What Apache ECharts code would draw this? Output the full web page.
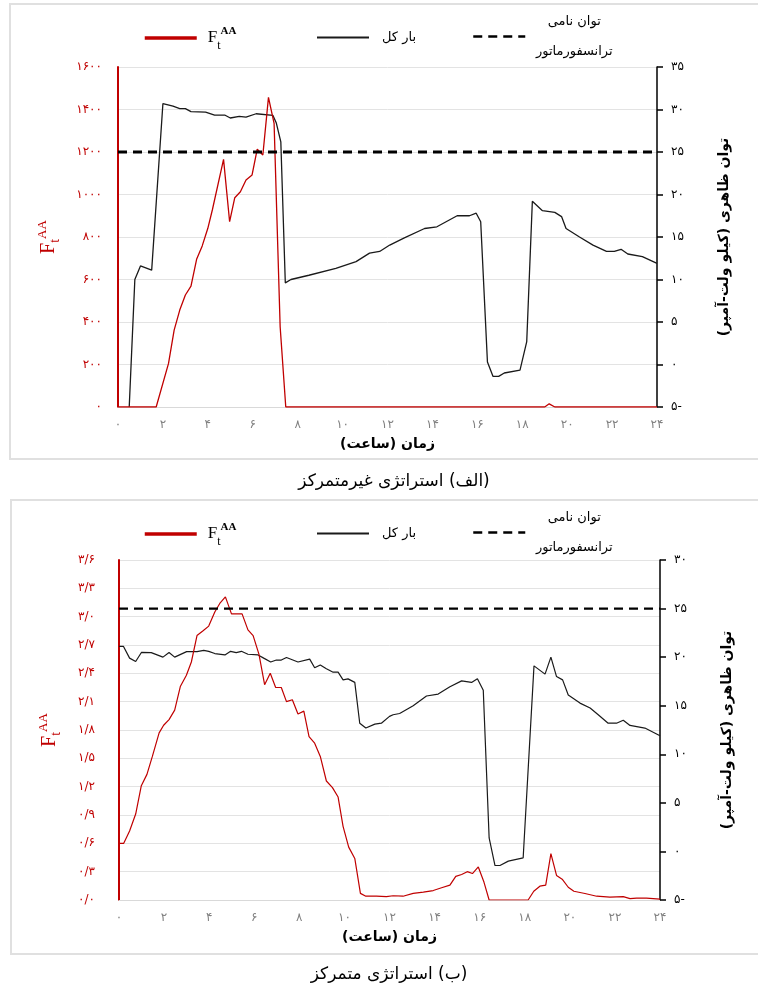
<!DOCTYPE html>
<html>
<head>
<meta charset="utf-8">
<script src="https://cdn.jsdelivr.net/npm/echarts@6/dist/echarts.min.js"></script>
<style>
html,body{margin:0;padding:0;background:#fff;}
#chart{width:758px;height:991px;}
</style>
</head>
<body>
<div id="chart"></div>
<script>
// ---------- DATA ----------
// Panel A (decentralized strategy)
const aLoadHours = [0.5,0.75,1.0,1.5,2.0,2.45,2.75,3.0,3.25,3.9,4.3,4.75,5.0,5.4,5.7,6.15,6.9,7.05,7.25,7.45,7.7,8.5,9.7,10.6,11.2,11.65,12.1,12.75,13.65,14.2,15.1,15.65,15.95,16.15,16.45,16.7,16.95,17.2,17.9,18.2,18.45,18.9,19.45,19.75,19.95,20.55,21.15,21.75,22.1,22.4,22.7,23.35,24];
const aLoad = [-5,10,11.6,11.1,30.7,30.4,30.1,30.1,29.75,29.7,29.35,29.35,29.0,29.2,29.1,29.5,29.3,28.4,26.2,9.6,10.0,10.5,11.3,12.1,13.1,13.3,14.05,14.9,16.0,16.2,17.5,17.5,17.8,16.8,0.3,-1.4,-1.4,-1.0,-0.65,2.7,19.2,18.1,17.9,17.4,16.0,15.0,14.05,13.3,13.3,13.55,13.0,12.7,11.9];
const aFHours = [0,1.7,2.25,2.5,2.75,3.0,3.25,3.5,3.75,4.0,4.2,4.7,4.97,5.2,5.45,5.7,5.97,6.2,6.45,6.7,6.95,7.22,7.47,19.0,19.2,19.45,24];
const aF = [0,0,205,362,456,527,569,695,758,841,927,1165,872,985,1013,1068,1092,1213,1186,1457,1335,378,0,0,15,0,0];

// Panel B (centralized strategy)
const bLoadHours = [0,0.2,0.47,0.74,1.0,1.43,1.95,2.22,2.47,3.0,3.46,3.76,3.98,4.25,4.7,4.95,5.2,5.43,5.72,6.17,6.42,6.73,6.98,7.2,7.43,7.94,8.46,8.68,8.93,9.2,9.5,9.72,9.94,10.16,10.46,10.68,10.95,11.35,11.64,12.0,12.16,12.45,13.05,13.64,14.16,14.68,15.2,15.64,15.9,16.16,16.42,16.68,16.9,17.27,17.93,18.41,18.9,19.16,19.41,19.68,19.93,20.45,20.9,21.26,21.7,22.07,22.37,22.67,23.33,24];
const bLoad = [21.1,21.1,19.9,19.55,20.5,20.47,20.0,20.47,20.0,20.57,20.57,20.7,20.6,20.37,20.23,20.6,20.47,20.6,20.3,20.23,19.9,19.5,19.7,19.7,19.96,19.5,19.8,18.9,19.2,18.8,18.45,18.45,17.66,17.76,17.4,13.2,12.7,13.1,13.2,13.9,14.07,14.2,15.0,16.0,16.2,16.95,17.56,17.4,17.77,16.6,1.39,-1.45,-1.45,-1.0,-0.66,19.1,18.25,20.0,18.0,17.66,16.1,15.27,14.76,14.07,13.2,13.2,13.5,12.97,12.7,11.9];
const bFHours = [0,0.21,0.47,0.74,0.99,1.24,1.48,1.78,1.98,2.22,2.47,2.72,2.99,3.21,3.46,3.73,3.98,4.25,4.47,4.72,4.99,5.21,5.46,5.72,5.95,6.21,6.46,6.71,6.95,7.2,7.43,7.69,7.94,8.2,8.43,8.68,8.93,9.2,9.47,9.72,9.94,10.19,10.46,10.71,10.95,11.42,11.86,12.16,12.6,13.05,13.5,13.94,14.31,14.68,14.94,15.2,15.45,15.68,15.94,16.19,16.42,18.15,18.4,18.67,18.93,19.16,19.41,19.66,19.93,20.18,20.67,21.19,21.78,22.37,22.67,22.96,23.4,24];
const bF = [0.60,0.60,0.73,0.91,1.21,1.33,1.52,1.77,1.85,1.91,2.01,2.26,2.38,2.52,2.80,2.85,2.90,3.05,3.14,3.21,3.03,3.03,3.03,2.86,2.80,2.60,2.28,2.40,2.25,2.25,2.10,2.12,1.97,2.00,1.73,1.66,1.52,1.26,1.19,1.09,0.78,0.56,0.44,0.07,0.04,0.04,0.035,0.045,0.04,0.07,0.083,0.10,0.13,0.157,0.25,0.27,0.30,0.28,0.35,0.19,0.0,0.0,0.093,0.146,0.157,0.49,0.26,0.22,0.135,0.093,0.069,0.04,0.03,0.035,0.015,0.02,0.02,0.01];

// Transformer rated power (kVA)
const ratedHours = [0,24];
const ratedPower = [25,25];

// Text
const RLM = '\u200F';
const nameF = 'FtAA';
const nameLoad = 'بار کل';
const nameRated = 'توان نامی ترانسفورماتور';
const xAxisTitle = 'زمان (ساعت)';
const yRightTitle = 'توان ظاهری (کیلو ولت-آمپر)';
const captionA = '(الف) استراتژی غیرمتمرکز';
const captionB = '(ب) استراتژی متمرکز';

// ---------- HELPERS ----------
const faDigits = '۰۱۲۳۴۵۶۷۸۹';
function toFa(s){ return String(s).replace(/[0-9]/g, d => faDigits[+d]); }
function fmtInt(v){ return v < 0 ? toFa(Math.abs(v)) + '-' : toFa(v); }
function fmtDec(v){ return toFa(v.toFixed(1)).replace('.', '/'); }
function pairs(xs, ys){ return xs.map((x,i)=>[x, ys[i]]); }
function rtl(s){ return RLM + s + RLM; }

const RED = '#C00000';
const FA_FONT = '"DejaVu Sans", "Noto Sans", sans-serif';
const SERIF = '"Liberation Serif", "DejaVu Serif", serif';

const fRich = {
  F: {fontFamily: SERIF, fontSize: 17, lineHeight: 24, verticalAlign: 'middle'},
  t: {fontFamily: SERIF, fontSize: 12, verticalAlign: 'bottom', padding: [0,0,-2,0]},
  a: {fontFamily: SERIF, fontSize: 11, fontWeight: 'bold', verticalAlign: 'top', padding: [0,0,0,0]}
};

function legendsFor(yIcon){
  const common = {itemWidth: 52, itemHeight: 14, itemGap: 0, selectedMode: false,
                  itemStyle: {opacity: 0}};
  return [
    Object.assign({data: [nameF], left: 138, top: yIcon - 12,
     lineStyle: {width: 3.5},
     formatter: () => '{F|F}{t|t}{a|AA}',
     textStyle: {color: '#000', padding: [0,0,0,6], rich: fRich}}, common),
    Object.assign({data: [nameLoad], left: 311, top: yIcon - 7,
     lineStyle: {width: 2},
     formatter: n => rtl(n),
     textStyle: {color: '#000', fontSize: 13, fontFamily: FA_FONT, padding: [0,0,0,8]}}, common),
    Object.assign({data: [nameRated], left: 467, top: yIcon - 23,
     lineStyle: {width: 2.5},
     formatter: () => '{r|' + rtl('توان نامی') + '}\n{r|' + rtl('ترانسفورماتور') + '}',
     textStyle: {color: '#000', fontFamily: FA_FONT, padding: [0,0,0,0],
       rich: {r: {fontSize: 13, fontFamily: FA_FONT, lineHeight: 30, width: 88, align: 'center'}}}}, common)
  ];
}

function xAxisFor(g){
  return {
    gridIndex: g, type: 'value', min: 0, max: 24, interval: 2,
    axisLine: {show: true, lineStyle: {color: '#d9d9d9'}},
    axisTick: {show: false}, splitLine: {show: false},
    axisLabel: {color: '#808080', fontSize: 12, margin: 12, fontFamily: FA_FONT, formatter: v => toFa(v)},
    name: rtl(xAxisTitle), nameLocation: 'middle', nameGap: 30,
    nameTextStyle: {color: '#000', fontWeight: 'bold', fontSize: 14, fontFamily: FA_FONT}
  };
}
function leftAxisFor(g, max, interval, fmt, margin){
  return {
    gridIndex: g, type: 'value', position: 'left', min: 0, max: max, interval: interval,
    axisLine: {show: true, lineStyle: {color: RED, width: 2}},
    axisTick: {show: false},
    axisLabel: {color: RED, fontSize: 12, margin: margin, fontFamily: FA_FONT, formatter: fmt},
    splitLine: {show: true, lineStyle: {color: '#e3e3e3', width: 1}},
    name: '{F|F}{t|t}{a|AA}', nameLocation: 'middle', nameRotate: 90, nameGap: 56,
    nameTextStyle: {color: RED, rich: {
      F: {fontFamily: SERIF, fontSize: 20, color: RED, lineHeight: 26},
      t: {fontFamily: SERIF, fontSize: 14, color: RED, verticalAlign: 'bottom'},
      a: {fontFamily: SERIF, fontSize: 13, color: RED, verticalAlign: 'top'}
    }}
  };
}
function rightAxisFor(g, min, max){
  return {
    gridIndex: g, type: 'value', position: 'right', min: min, max: max, interval: 5,
    axisLine: {show: true, lineStyle: {color: '#000', width: 1.5}},
    axisTick: {show: true, length: 6, lineStyle: {color: '#000', width: 1.5}},
    axisLabel: {color: '#000', fontSize: 12, margin: 14, fontFamily: FA_FONT, formatter: fmtInt},
    splitLine: {show: false},
    name: rtl(yRightTitle), nameLocation: 'middle', nameRotate: 90, nameGap: 60,
    nameTextStyle: {color: '#000', fontWeight: 'bold', fontSize: 14, fontFamily: FA_FONT}
  };
}

const chart = echarts.init(document.getElementById('chart'), null, {renderer: 'canvas'});
chart.setOption({
  backgroundColor: '#fff',
  animation: false,
  graphic: [
    {type: 'rect', shape: {x: 10, y: 4, width: 760, height: 455}, style: {fill: 'none', stroke: '#e0e0e0', lineWidth: 2}, z: -1},
    {type: 'rect', shape: {x: 11, y: 500, width: 760, height: 454}, style: {fill: 'none', stroke: '#e0e0e0', lineWidth: 2}, z: -1}
  ],
  title: [
    {text: rtl(captionA), left: 389, top: 468, textAlign: 'center',
     textStyle: {fontSize: 17, fontWeight: 'normal', color: '#000', fontFamily: FA_FONT}},
    {text: rtl(captionB), left: 384, top: 961, textAlign: 'center',
     textStyle: {fontSize: 17, fontWeight: 'normal', color: '#000', fontFamily: FA_FONT}}
  ],
  legend: legendsFor(33).concat(legendsFor(529)),
  grid: [
    {left: 118, right: 101, top: 67, height: 340},
    {left: 119, right: 98, top: 560, height: 340}
  ],
  xAxis: [xAxisFor(0), xAxisFor(1)],
  yAxis: [
    leftAxisFor(0, 1600, 200, v => toFa(v), 16),
    rightAxisFor(0, -5, 35),
    leftAxisFor(1, 3.6, 0.3, fmtDec, 24),
    rightAxisFor(1, -5, 30)
  ],
  series: [
    {name: nameLoad, type: 'line', xAxisIndex: 0, yAxisIndex: 1, data: pairs(aLoadHours, aLoad),
     symbol: 'none', lineStyle: {color: '#1a1a1a', width: 1.3}, itemStyle: {color: '#1a1a1a'}, z: 3},
    {name: nameF, type: 'line', xAxisIndex: 0, yAxisIndex: 0, data: pairs(aFHours, aF),
     symbol: 'none', lineStyle: {color: RED, width: 1.3}, itemStyle: {color: RED}, z: 4},
    {name: nameRated, type: 'line', xAxisIndex: 0, yAxisIndex: 1, data: pairs(ratedHours, ratedPower),
     symbol: 'none', lineStyle: {color: '#000', width: 3, type: [9, 6]}, itemStyle: {color: '#000'}, z: 5},
    {name: nameLoad, type: 'line', xAxisIndex: 1, yAxisIndex: 3, data: pairs(bLoadHours, bLoad),
     symbol: 'none', lineStyle: {color: '#1a1a1a', width: 1.2}, itemStyle: {color: '#1a1a1a'}, z: 3},
    {name: nameF, type: 'line', xAxisIndex: 1, yAxisIndex: 2, data: pairs(bFHours, bF),
     symbol: 'none', lineStyle: {color: RED, width: 1.2}, itemStyle: {color: RED}, z: 4},
    {name: nameRated, type: 'line', xAxisIndex: 1, yAxisIndex: 3, data: pairs(ratedHours, ratedPower),
     symbol: 'none', lineStyle: {color: '#000', width: 2.2, type: [9, 6]}, itemStyle: {color: '#000'}, z: 5}
  ]
});
</script>
</body>
</html>
